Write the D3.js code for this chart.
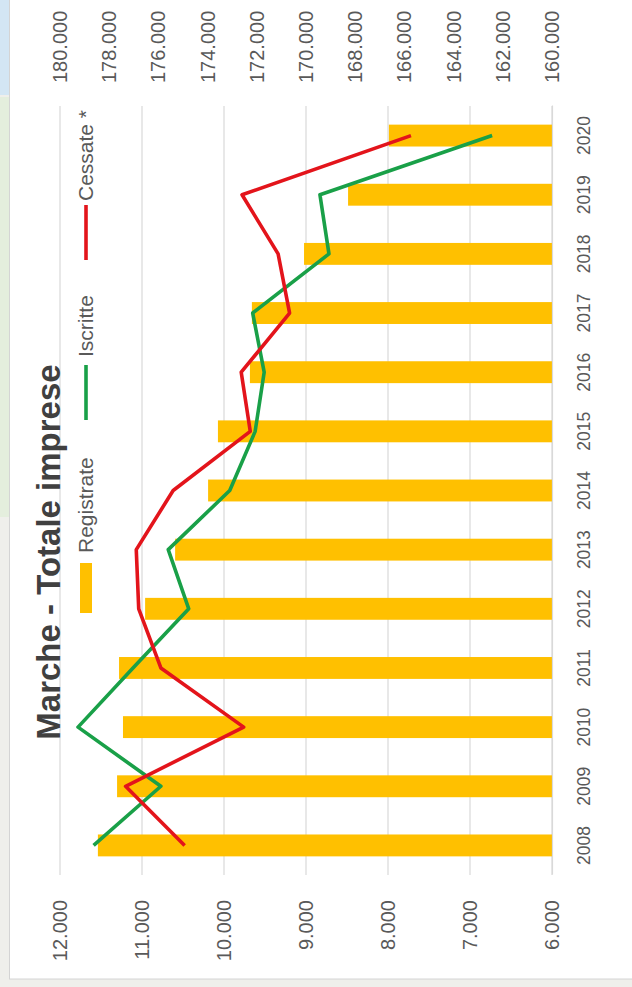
<!DOCTYPE html>
<html>
<head>
<meta charset="utf-8">
<script src="https://cdn.jsdelivr.net/npm/d3@7"></script>
<style>
  html, body { margin: 0; padding: 0; background: #efefeb; }
  svg { display: block; }
  text { font-family: "Liberation Sans", Arial, sans-serif; }
</style>
</head>
<body>
<svg id="chart" width="632" height="987"></svg>
<script>
// ---- data ----
const years = ["2008","2009","2010","2011","2012","2013","2014","2015","2016","2017","2018","2019","2020"];
const registrate = [178460, 177680, 177440, 177600, 176540, 175320, 173980, 173580, 172280, 172200, 170080, 168290, 166630];
const iscritte   = [11590, 10770, 11780, 11110, 10430, 10680, 9930, 9620, 9510, 9650, 8720, 8830, 6730];
const cessate    = [10480, 11200, 9760, 10770, 11040, 11070, 10620, 9680, 9790, 9200, 9340, 9780, 7720];
const leftTicks  = [6000, 7000, 8000, 9000, 10000, 11000, 12000];
const rightTicks = [160000, 162000, 164000, 166000, 168000, 170000, 172000, 174000, 176000, 178000, 180000];
const title = "Marche - Totale imprese";
const seriesNames = ["Registrate", "Iscritte", "Cessate *"];

const W = 632, H = 987;
const svg = d3.select("#chart");

// page background pieces (screenshot surroundings)
svg.append("rect").attr("x", 0).attr("y", 0).attr("width", W).attr("height", H).attr("fill", "#efefeb");
svg.append("rect").attr("x", 0).attr("y", 0).attr("width", 9).attr("height", 95).attr("fill", "#d3e6f4");
svg.append("rect").attr("x", 0).attr("y", 97).attr("width", 9).attr("height", 420).attr("fill", "#e4eedd");
// chart box
svg.append("rect").attr("x", 9.5).attr("y", -1).attr("width", W).attr("height", 980)
  .attr("fill", "#ffffff").attr("stroke", "#d4d4d4").attr("stroke-width", 1);

// chart drawn in its original (unrotated) orientation, then rotated -90deg
const OW = H, OH = W; // original width/height
const g = svg.append("g").attr("transform", `translate(0,${H}) rotate(-90)`);

const plotL = 112, plotR = 881, plotT = 60, plotB = 552;

const x = d3.scaleBand().domain(years).range([plotL, plotR]).paddingInner(0).paddingOuter(0);
const yL = d3.scaleLinear().domain([6000, 12000]).range([plotB, plotT]);
const yR = d3.scaleLinear().domain([160000, 180000]).range([plotB, plotT]);

const it = d3.formatLocale({decimal: ",", thousands: ".", grouping: [3], currency: ["€", ""]});
const fmt = it.format(",.0f");
const fmt3 = v => it.format(",.3f")(v / 1000).replace(",", ".");

// gridlines
g.append("g").selectAll("line").data(leftTicks).join("line")
  .attr("x1", plotL).attr("x2", plotR)
  .attr("y1", d => yL(d)).attr("y2", d => yL(d))
  .attr("stroke", "#d9d9d9").attr("stroke-width", 1.2);

// bars
const barW = x.bandwidth() * 0.37;
g.append("g").selectAll("rect").data(years).join("rect")
  .attr("x", (d) => x(d) + x.bandwidth() / 2 - barW / 2)
  .attr("width", barW)
  .attr("y", (d, i) => yR(registrate[i]))
  .attr("height", (d, i) => yR(160000) - yR(registrate[i]))
  .attr("fill", "#ffc000");

// lines
const line = d3.line().x((d, i) => x(years[i]) + x.bandwidth() / 2).y(d => yL(d));
g.append("path").datum(iscritte).attr("d", line)
  .attr("fill", "none").attr("stroke", "#19a048").attr("stroke-width", 3.6).attr("stroke-linejoin", "round");
g.append("path").datum(cessate).attr("d", line)
  .attr("fill", "none").attr("stroke", "#e3141b").attr("stroke-width", 3.6).attr("stroke-linejoin", "round");

// axes
const axL = g.append("g").attr("transform", `translate(${plotL},0)`)
  .call(d3.axisLeft(yL).tickValues(leftTicks).tickSize(0).tickPadding(25).tickFormat(fmt));
const axR = g.append("g").attr("transform", `translate(${plotR},0)`)
  .call(d3.axisRight(yR).tickValues(rightTicks).tickSize(0).tickPadding(23).tickFormat(fmt));
const axB = g.append("g").attr("transform", `translate(0,${plotB})`)
  .call(d3.axisBottom(x).tickSize(0).tickPadding(26));
[axL, axR].forEach(a => {
  a.select(".domain").remove();
  a.selectAll("text").attr("font-size", 20).attr("fill", "#595959");
});
axB.select(".domain").attr("stroke", "#d9d9d9").attr("stroke-width", 1.2);
axB.selectAll("text").attr("font-size", 17.5).attr("fill", "#595959");

// title
g.append("text").attr("x", 435).attr("y", 60).attr("text-anchor", "middle")
  .attr("font-size", 33).attr("font-weight", "bold").attr("fill", "#404040").text(title);

// legend
const legY = 86;
const leg = g.append("g");
leg.append("rect").attr("x", 374).attr("y", legY - 6).attr("width", 50).attr("height", 12).attr("fill", "#ffc000");
leg.append("text").attr("x", 434).attr("y", legY).attr("dy", "0.35em").attr("font-size", 21).attr("fill", "#595959").text(seriesNames[0]);
leg.append("line").attr("x1", 567).attr("x2", 622).attr("y1", legY).attr("y2", legY).attr("stroke", "#19a048").attr("stroke-width", 3.6);
leg.append("text").attr("x", 630).attr("y", legY).attr("dy", "0.35em").attr("font-size", 21).attr("fill", "#595959").text(seriesNames[1]);
leg.append("line").attr("x1", 727).attr("x2", 782).attr("y1", legY).attr("y2", legY).attr("stroke", "#e3141b").attr("stroke-width", 3.6);
leg.append("text").attr("x", 786).attr("y", legY).attr("dy", "0.35em").attr("font-size", 21).attr("fill", "#595959").text(seriesNames[2]);
</script>
</body>
</html>
